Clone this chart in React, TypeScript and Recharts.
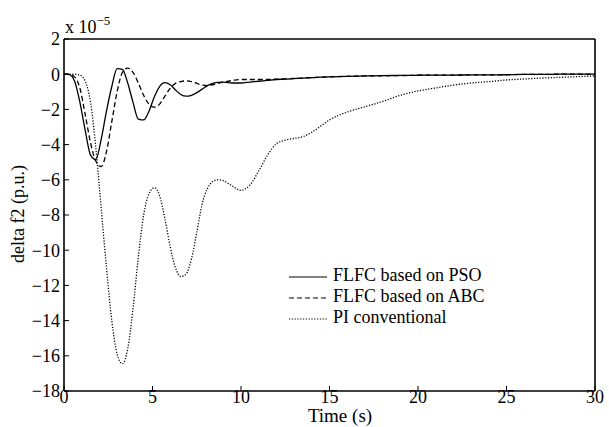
import React from 'react';
import { LineChart, Line, XAxis, YAxis, Legend } from 'recharts';

// time axis (s)
const time = [
  0, 0.3, 0.6, 0.9, 1.2, 1.5, 1.8, 2.1, 2.4, 2.7, 3.0, 3.3, 3.6, 3.9, 4.2, 4.5, 4.8, 5.1, 5.4, 5.7,
  6.0, 6.3, 6.6, 6.9, 7.2, 7.5, 7.8, 8.1, 8.4, 8.7, 9.0,
  9.5, 10, 10.5, 11, 11.5, 12, 12.5, 13, 13.5, 14, 14.5, 15,
  16, 17, 18, 19, 20, 21, 22, 23, 24, 25, 26, 27, 28, 29, 30,
];

// delta f2, units of 1e-5 p.u.
const flfcPso = [
  0, -0.03, -0.4, -1.6, -3.2, -4.6, -4.85, -3.7, -2.1, -0.7, 0.32, 0.28, -0.5, -1.6, -2.55, -2.6, -2.1, -1.3, -0.7, -0.48,
  -0.6, -0.9, -1.15, -1.25, -1.2, -1.05, -0.85, -0.65, -0.52, -0.46, -0.45,
  -0.5, -0.5, -0.45, -0.4, -0.35, -0.3, -0.28, -0.25, -0.22, -0.2, -0.17, -0.15,
  -0.12, -0.1, -0.08, -0.07, -0.06, -0.05, -0.05, -0.04, -0.04, -0.03, -0.01, -0.01, 0, 0, 0,
];

const flfcAbc = [
  0, 0, -0.15, -0.8, -2.3, -3.9, -4.95, -5.25, -4.4, -2.7, -1.0, 0.1, 0.35, 0.1, -0.5, -1.2, -1.7, -1.87, -1.7, -1.25,
  -0.8, -0.52, -0.42, -0.38, -0.42, -0.52, -0.62, -0.65, -0.6, -0.52, -0.45,
  -0.36, -0.3, -0.3, -0.3, -0.3, -0.28, -0.26, -0.24, -0.22, -0.2, -0.17, -0.15,
  -0.12, -0.1, -0.09, -0.08, -0.06, -0.05, -0.05, -0.04, -0.04, -0.03, -0.01, -0.01, 0, 0, 0,
];

const piConventional = [
  0, 0, 0, -0.05, -0.4, -1.6, -4.2, -7.6, -11.0, -14.0, -15.9, -16.45, -15.6, -13.3, -10.4, -8.0, -6.8, -6.45, -6.9, -8.2,
  -9.8, -11.0, -11.5, -11.35, -10.5, -9.0, -7.4, -6.5, -6.1, -6.0, -6.05,
  -6.35, -6.6, -6.3, -5.5, -4.6, -3.95, -3.75, -3.65, -3.55, -3.3, -2.95, -2.6,
  -2.15, -1.85, -1.55, -1.2, -0.95, -0.78, -0.62, -0.5, -0.42, -0.33, -0.27, -0.22, -0.18, -0.14, -0.1,
];

const xTicks = [0, 5, 10, 15, 20, 25, 30];
const yTicks = [-18, -16, -14, -12, -10, -8, -6, -4, -2, 0, 2];

const series = [
  { key: 'pso', name: 'FLFC based on PSO', dash: undefined },
  { key: 'abc', name: 'FLFC based on ABC', dash: '5 3' },
  { key: 'pi', name: 'PI conventional', dash: '1.2 1.6' },
];

const data = time.map((t, i) => ({
  t,
  pso: flfcPso[i],
  abc: flfcAbc[i],
  pi: piConventional[i],
}));

const FONT = '"Liberation Serif", "DejaVu Serif", serif';
const fmt = (v: number) => String(v).replace('-', '\u2212');
const tickStyle = { fontSize: 18, fill: '#000', fontFamily: FONT };

const renderLegend = () => (
  <div style={{ fontSize: 18, lineHeight: '21px', color: '#000', fontFamily: FONT }}>
    {series.map((s) => (
      <div key={s.key} style={{ display: 'flex', alignItems: 'center', height: 21 }}>
        <svg width={40} height={21} style={{ marginRight: 4 }}>
          <line x1={0} x2={38} y1={12} y2={12} stroke="#000" strokeWidth={1.2} strokeDasharray={s.dash} />
        </svg>
        <span>{s.name}</span>
      </div>
    ))}
  </div>
);

export default function App() {
  return (
    <div style={{ position: 'absolute', left: 0, top: 0, background: '#fff', fontFamily: FONT }}>
      <LineChart width={609} height={427} data={data} margin={{ top: 38, right: 13, bottom: 0, left: 0 }}>
        <XAxis
          dataKey="t"
          type="number"
          domain={[0, 30]}
          ticks={xTicks}
          height={36}
          tickSize={-5}
          tickMargin={4}
          tick={tickStyle}
          axisLine={{ stroke: '#000', strokeWidth: 1.6 }}
          tickLine={{ stroke: '#000', strokeWidth: 1 }}
          label={{
            content: () => (
              <text x={340} y={422} textAnchor="middle" fontSize={19} fill="#000" fontFamily={FONT}>Time (s)</text>
            ),
          }}
        />
        <XAxis
          xAxisId="top"
          orientation="top"
          dataKey="t"
          type="number"
          domain={[0, 30]}
          ticks={xTicks}
          height={1}
          tickSize={-5}
          tick={false}
          axisLine={{ stroke: '#000', strokeWidth: 1.6 }}
          tickLine={{ stroke: '#000', strokeWidth: 1 }}
          label={{
            content: () => (
              <text x={65} y={33} fontSize={18} fill="#000" fontFamily={FONT}>
                x 10<tspan dy={-8} fontSize={13}>{'\u22125'}</tspan>
              </text>
            ),
          }}
        />
        <YAxis
          type="number"
          domain={[-18, 2]}
          ticks={yTicks}
          width={64}
          allowDataOverflow
          tickSize={-5}
          tickMargin={9}
          tickFormatter={fmt}
          tick={tickStyle}
          axisLine={{ stroke: '#000', strokeWidth: 1.6 }}
          tickLine={{ stroke: '#000', strokeWidth: 1 }}
          label={{
            content: () => (
              <text x={24} y={214} transform="rotate(-90 24 214)" textAnchor="middle" fontSize={18} fill="#000" fontFamily={FONT}>
                delta f2 (p.u.)
              </text>
            ),
          }}
        />
        <YAxis
          yAxisId="right"
          orientation="right"
          type="number"
          domain={[-18, 2]}
          ticks={yTicks}
          width={1}
          tickSize={-5}
          tick={false}
          axisLine={{ stroke: '#000', strokeWidth: 1.6 }}
          tickLine={{ stroke: '#000', strokeWidth: 1 }}
        />
        <Legend
          content={renderLegend}
          layout="vertical"
          align="center"
          verticalAlign="middle"
          wrapperStyle={{ position: 'absolute', left: 289, top: 265, width: 240 }}
        />
        {series.map((s) => (
          <Line
            key={s.key}
            type="monotone"
            dataKey={s.key}
            name={s.name}
            stroke="#000"
            strokeWidth={1.3}
            strokeDasharray={s.dash}
            dot={false}
            activeDot={false}
            isAnimationActive={false}
          />
        ))}
      </LineChart>
    </div>
  );
}
